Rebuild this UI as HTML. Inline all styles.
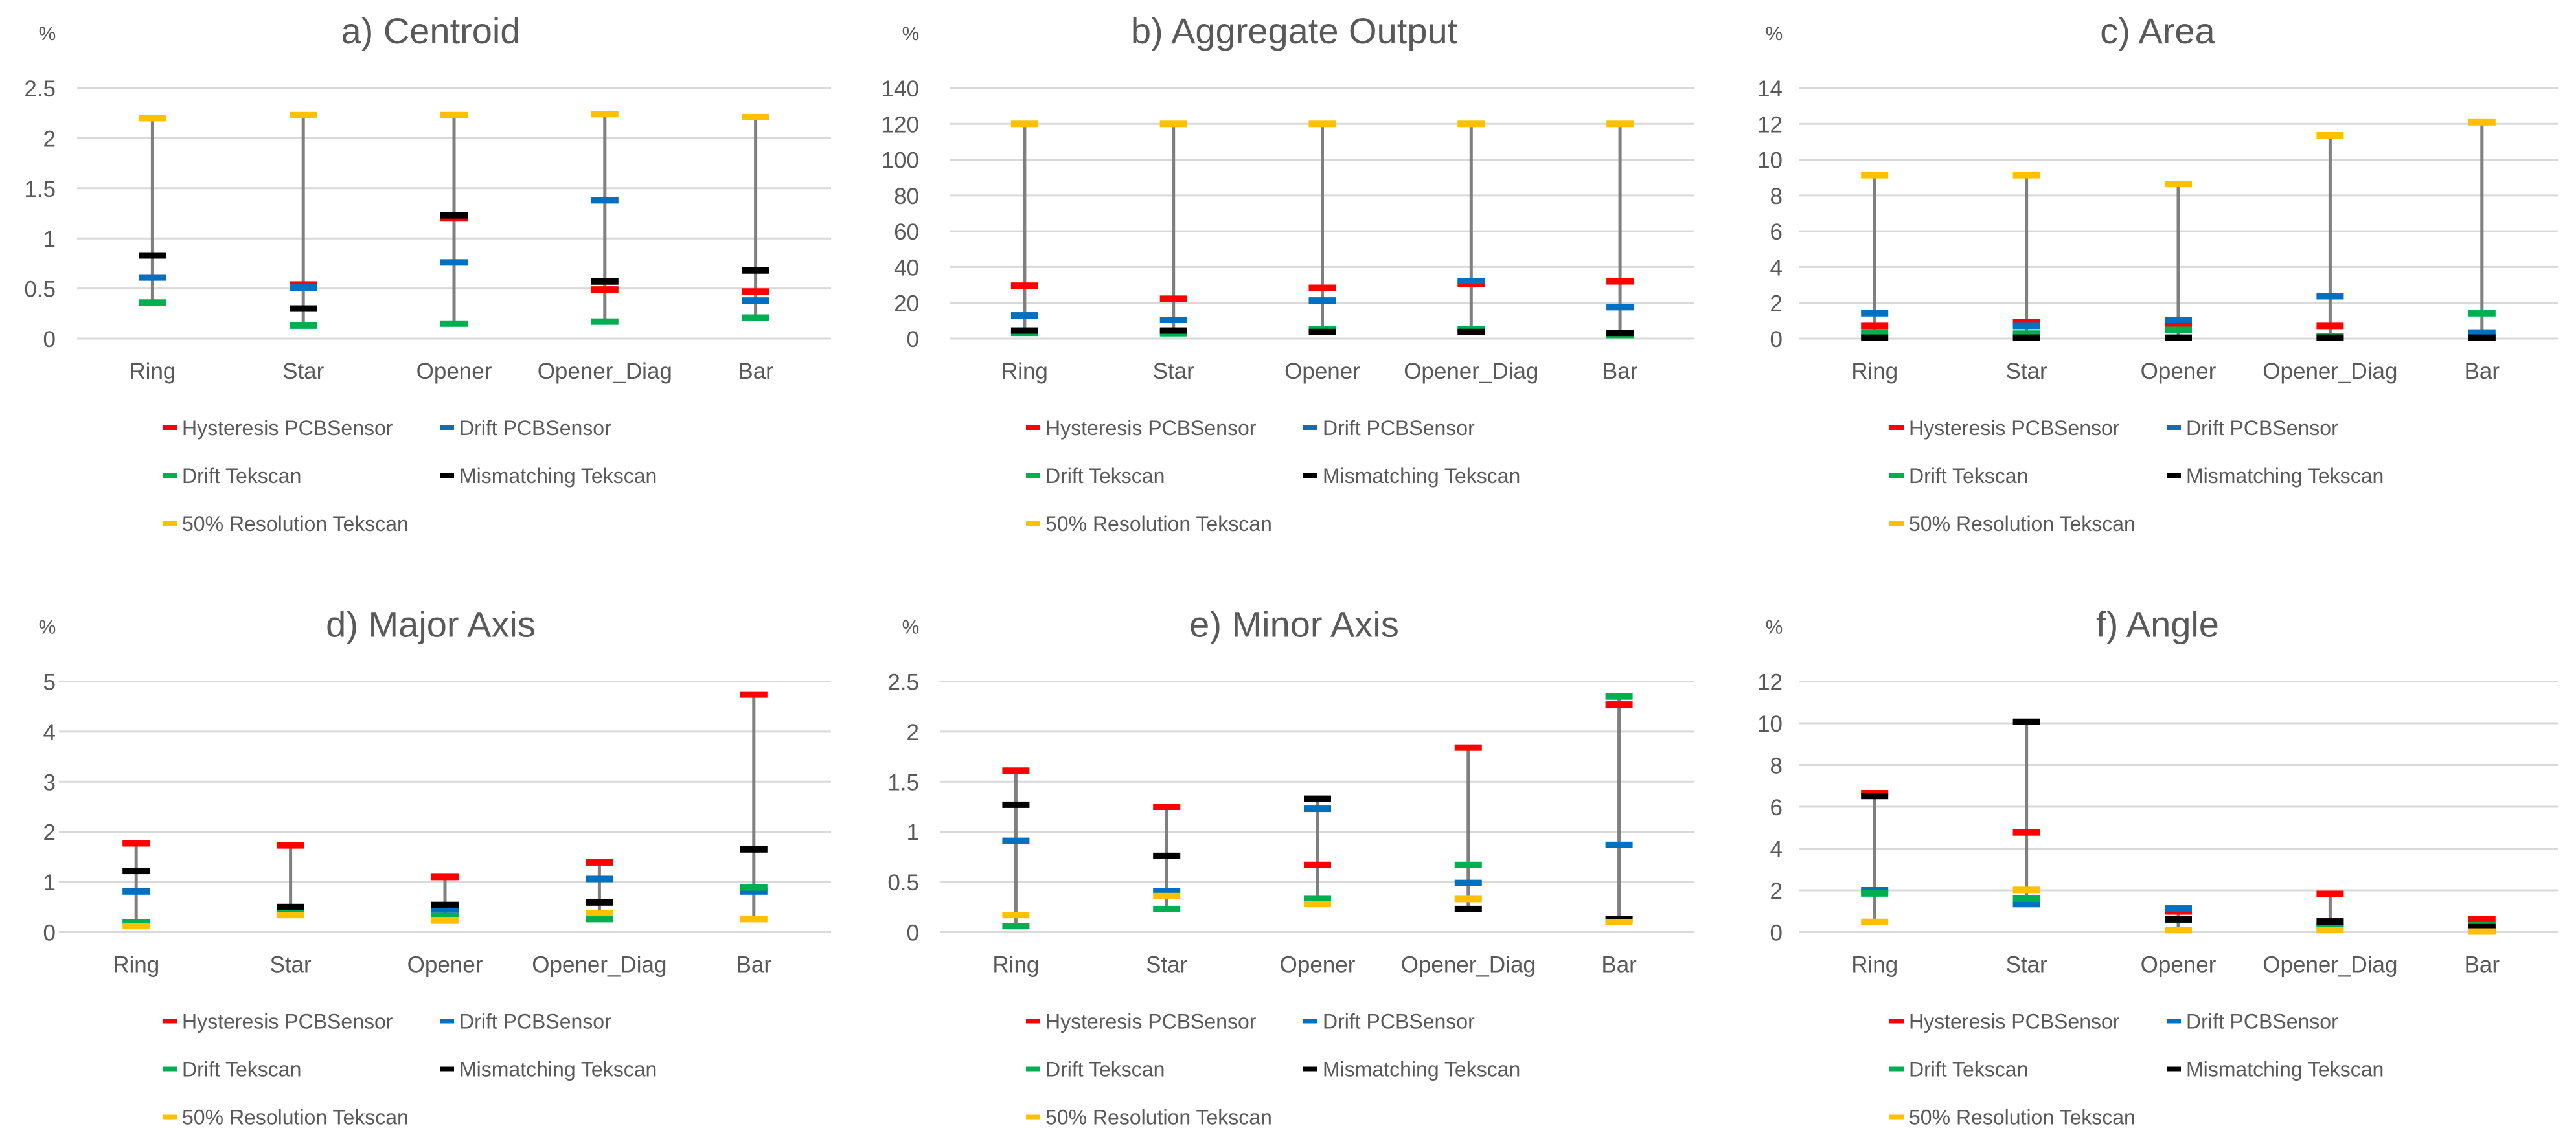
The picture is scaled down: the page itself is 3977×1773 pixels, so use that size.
<!DOCTYPE html>
<html><head><meta charset="utf-8"><style>
html,body{margin:0;padding:0;background:#fff;}
svg{display:block;font-family:"Liberation Sans",sans-serif;}
</style></head><body>
<svg id="fig" width="3977" height="1773" viewBox="0 0 3977 1773" xmlns="http://www.w3.org/2000/svg"></svg>
<script>
const categories = ["Ring","Star","Opener","Opener_Diag","Bar"];
const seriesNames = ["Hysteresis PCBSensor","Drift PCBSensor","Drift Tekscan","Mismatching Tekscan","50% Resolution Tekscan"];
const seriesColors = ["#ff0000","#0070c0","#00b050","#000000","#ffc000"];

// a) Centroid
const centroidHyst = [0.61,0.54,1.20,0.49,0.47];
const centroidDriftPCB = [0.61,0.51,0.76,1.38,0.38];
const centroidDriftTek = [0.36,0.13,0.15,0.17,0.21];
const centroidMismatch = [0.83,0.30,1.23,0.57,0.68];
const centroidRes = [2.20,2.23,2.23,2.24,2.21];
const centroidTicks = ["0","0.5","1","1.5","2","2.5"];
// b) Aggregate Output
const aggHyst = [29.6,22.3,28.4,30.6,32.0];
const aggDriftPCB = [13.0,10.5,21.3,32.2,17.6];
const aggDriftTek = [3.2,3.0,5.3,5.3,2.0];
const aggMismatch = [4.5,4.5,3.7,3.7,3.2];
const aggRes = [120,120,120,120,120];
const aggTicks = ["0","20","40","60","80","100","120","140"];
// c) Area
const areaHyst = [0.71,0.91,0.75,0.71,0.10];
const areaDriftPCB = [1.42,0.71,1.05,2.37,0.34];
const areaDriftTek = [0.34,0.28,0.49,0.14,1.42];
const areaMismatch = [0.05,0.05,0.05,0.05,0.05];
const areaRes = [9.13,9.13,8.64,11.36,12.09];
const areaTicks = ["0","2","4","6","8","10","12","14"];
// d) Major Axis
const majorHyst = [1.77,1.73,1.10,1.39,4.74];
const majorDriftPCB = [0.81,0.44,0.45,1.06,0.81];
const majorDriftTek = [0.20,0.42,0.32,0.26,0.89];
const majorMismatch = [1.22,0.50,0.54,0.59,1.65];
const majorRes = [0.12,0.34,0.23,0.38,0.26];
const majorTicks = ["0","1","2","3","4","5"];
// e) Minor Axis
const minorHyst = [1.61,1.25,0.67,1.84,2.27];
const minorDriftPCB = [0.91,0.41,1.23,0.49,0.87];
const minorDriftTek = [0.06,0.23,0.33,0.67,2.35];
const minorMismatch = [1.27,0.76,1.33,0.23,0.13];
const minorRes = [0.17,0.36,0.28,0.33,0.10];
const minorTicks = ["0","0.5","1","1.5","2","2.5"];
// f) Angle
const angleHyst = [6.65,4.77,0.99,1.83,0.61];
const angleDriftPCB = [2.00,1.34,1.13,0.30,0.10];
const angleDriftTek = [1.85,1.60,0.60,0.30,0.33];
const angleMismatch = [6.52,10.07,0.61,0.51,0.24];
const angleRes = [0.49,2.02,0.10,0.10,0.03];
const angleTicks = ["0","2","4","6","8","10","12"];

const NS = "http://www.w3.org/2000/svg";
const svg = document.getElementById('fig');
function mk(tag, attrs, parent){
  const e = document.createElementNS(NS, tag);
  for (const k in attrs) e.setAttribute(k, attrs[k]);
  (parent||svg).appendChild(e);
  return e;
}

const panels = [
  {title:"a) Centroid", key:"centroid", col:0,row:0, ticks:centroidTicks, max:2.5, plotL:119, series:[centroidHyst,centroidDriftPCB,centroidDriftTek,centroidMismatch,centroidRes]},
  {title:"b) Aggregate Output", key:"aggregate-output", col:1,row:0, ticks:aggTicks, max:140, plotL:134, series:[aggHyst,aggDriftPCB,aggDriftTek,aggMismatch,aggRes]},
  {title:"c) Area", key:"area", col:2,row:0, ticks:areaTicks, max:14, plotL:111, series:[areaHyst,areaDriftPCB,areaDriftTek,areaMismatch,areaRes]},
  {title:"d) Major Axis", key:"major-axis", col:0,row:1, ticks:majorTicks, max:5, plotL:91, series:[majorHyst,majorDriftPCB,majorDriftTek,majorMismatch,majorRes]},
  {title:"e) Minor Axis", key:"minor-axis", col:1,row:1, ticks:minorTicks, max:2.5, plotL:119, series:[minorHyst,minorDriftPCB,minorDriftTek,minorMismatch,minorRes]},
  {title:"f) Angle", key:"angle", col:2,row:1, ticks:angleTicks, max:12, plotL:111, series:[angleHyst,angleDriftPCB,angleDriftTek,angleMismatch,angleRes]}
];

panels.forEach(p => {
  const ox = p.col*1333, oy = p.row*916.5;
  const g = mk('g', {});
  
  
  const L = ox + p.plotL, R = ox + 1283, top = oy + 136, bot = oy + 523;
  const yScale = v => bot - (v / p.max) * (bot - top);
  const step = (R - L) / categories.length;
  const xScale = i => L + step * (i + 0.5);

  const t = mk('text', {x: ox + 665, y: oy + 67, 'font-size': 56, fill: '#595959', 'text-anchor': 'middle'}, g);
  t.textContent = p.title;
  
  
  const u = mk('text', {x: ox + 73, y: oy + 62, 'font-size': 30, fill: '#595959', 'text-anchor': 'middle'}, g);
  u.textContent = '%';
  
  

  p.ticks.forEach((lab, i) => {
    const v = p.max * i / (p.ticks.length - 1);
    const y = yScale(v);
    const gl = mk('line', {x1: L, x2: R, y1: y, y2: y, stroke: '#d9d9d9', 'stroke-width': 3}, g);
    
    
    const tl = mk('text', {x: ox + 86, y: y + 13, 'font-size': 35, fill: '#595959', 'text-anchor': 'end'}, g);
    tl.textContent = lab;
    
    
  });

  categories.forEach((c, i) => {
    const x = xScale(i);
    const vals = p.series.map(s => s[i]);
    const mn = Math.min(...vals), mx = Math.max(...vals);
    const st = mk('line', {x1: x, x2: x, y1: yScale(mn), y2: yScale(mx), stroke: '#7f7f7f', 'stroke-width': 5}, g);
    
    
    p.series.forEach((s, k) => {
      const r = mk('rect', {x: x - 21, y: yScale(s[i]) - 5, width: 42, height: 10, fill: seriesColors[k]}, g);
      
      
    });
    const cl = mk('text', {x: x, y: oy + 585, 'font-size': 35, fill: '#595959', 'text-anchor': 'middle'}, g);
    cl.textContent = c;
    
    
  });

  seriesNames.forEach((n, k) => {
    const lx = ox + (k % 2 === 0 ? 251 : 679);
    const ly = oy + [660, 660, 734, 734, 808][k];
    const lg = mk('g', {}, g);
    
    
    mk('rect', {x: lx, y: ly - 3, width: 22, height: 7, fill: seriesColors[k]}, lg);
    const lt = mk('text', {x: lx + 30, y: ly + 12, 'font-size': 32, fill: '#595959'}, lg);
    lt.textContent = n;
  });
});
</script>
</body></html>
